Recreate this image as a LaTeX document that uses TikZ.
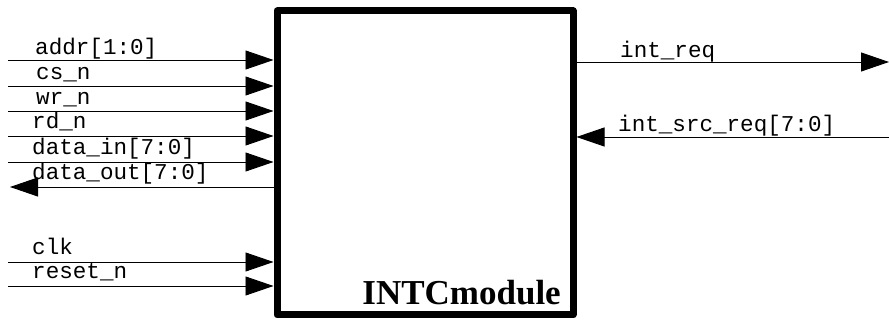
\documentclass[tikz,border=0pt]{standalone}
\usepackage{fontspec}
\newfontfamily\monofnt{Liberation Mono}
\newfontfamily\boldserif{Liberation Serif}
\usetikzlibrary{arrows.meta}
\begin{document}
\begin{tikzpicture}[x=1pt,y=-1pt,
  sig/.style={line width=0.9pt,-{Triangle[length=28pt,width=19pt]}},
  lbl/.style={anchor=base west,inner sep=0pt,font=\monofnt\fontsize{22.6}{24}\selectfont},
  modbox/.style={draw,line width=7pt,line join=round,minimum width=296pt,minimum height=304pt,inner sep=0pt}]
\useasboundingbox (0,0) rectangle (889,320);
\node[modbox] (box) at (425,163) {};
\node[anchor=base east,inner sep=0pt,font=\boldserif\bfseries\fontsize{35}{38}\selectfont] (title) at (561,305) {INTCmodule};
% left inputs
\coordinate (iaddr) at (8,60);
\coordinate (ics) at (8,86);
\coordinate (iwr) at (8,111);
\coordinate (ird) at (8,136);
\coordinate (idin) at (8,162);
\coordinate (idout) at (10,187);
\coordinate (iclk) at (8,262);
\coordinate (irst) at (8,286);
\draw[sig] (iaddr) -- (iaddr -| box.west);
\draw[sig] (ics) -- (ics -| box.west);
\draw[sig] (iwr) -- (iwr -| box.west);
\draw[sig] (ird) -- (ird -| box.west);
\draw[sig] (idin) -- (idin -| box.west);
\draw[sig] (idout -| box.west) -- (idout);
\draw[sig] (iclk) -- (iclk -| box.west);
\draw[sig] (irst) -- (irst -| box.west);
\node[lbl] (laddr) at (35,55) {addr[1:0]};
\node[lbl] (lcs) at (36,80) {cs\_n};
\node[lbl] (lwr) at (36,105) {wr\_n};
\node[lbl] (lrd) at (32,129) {rd\_n};
\node[lbl] (ldin) at (32,155) {data\_in[7:0]};
\node[lbl] (ldout) at (32,180) {data\_out[7:0]};
\node[lbl] (lclk) at (32,255) {clk};
\node[lbl] (lrst) at (32,279) {reset\_n};
% right side
\coordinate (oreq) at (889,62);
\coordinate (isrc) at (889,137);
\draw[sig] (oreq -| box.east) -- (oreq);
\draw[sig] (isrc) -- (isrc -| box.east);
\node[lbl] (lreq) at (620,58) {int\_req};
\node[lbl] (lsrc) at (618,132) {int\_src\_req[7:0]};
\end{tikzpicture}
\end{document}
